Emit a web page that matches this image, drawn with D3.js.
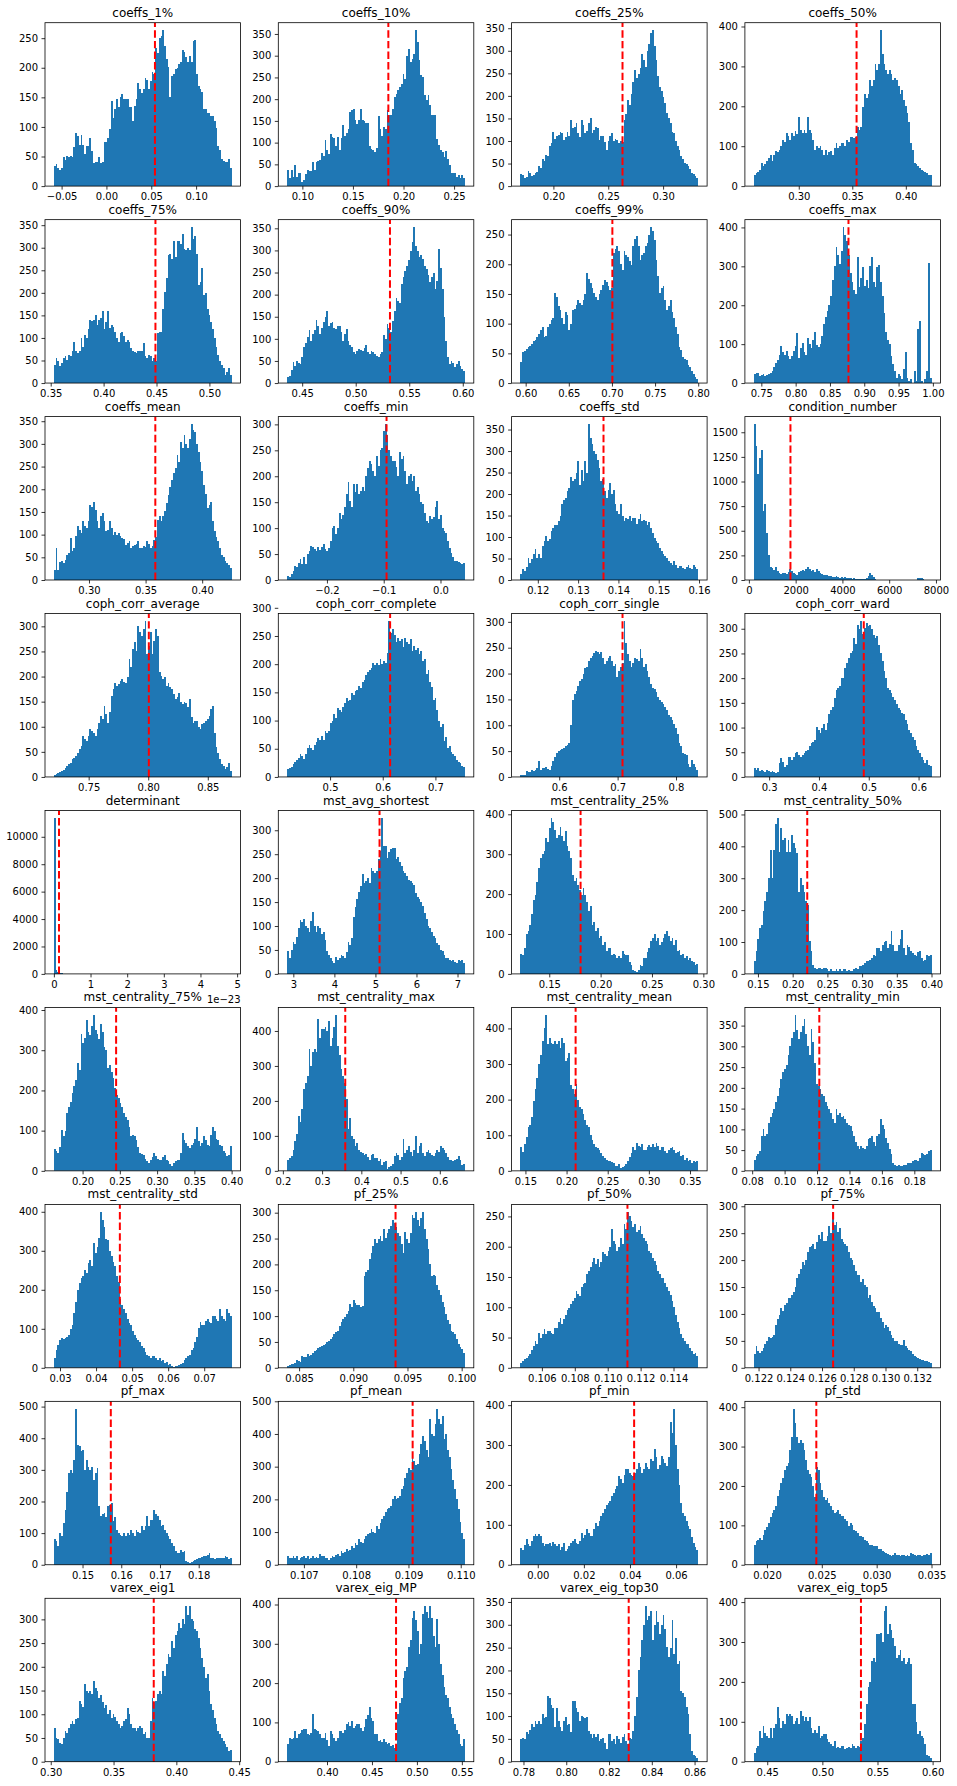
<!DOCTYPE html>
<html><head><meta charset="utf-8">
<script src="https://cdn.jsdelivr.net/npm/d3@7"></script>
<style>body{margin:0;background:#fff}svg{display:block}</style>
</head><body><svg id="chart" width="957" height="1786"></svg>
<script>
const titles = ["coeffs_1%","coeffs_10%","coeffs_25%","coeffs_50%","coeffs_75%","coeffs_90%","coeffs_99%","coeffs_max","coeffs_mean","coeffs_min","coeffs_std","condition_number","coph_corr_average","coph_corr_complete","coph_corr_single","coph_corr_ward","determinant","mst_avg_shortest","mst_centrality_25%","mst_centrality_50%","mst_centrality_75%","mst_centrality_max","mst_centrality_mean","mst_centrality_min","mst_centrality_std","pf_25%","pf_50%","pf_75%","pf_max","pf_mean","pf_min","pf_std","varex_eig1","varex_eig_MP","varex_eig_top30","varex_eig_top5"];
const binStart = [-0.0586,0.085,0.170,0.258,0.353,0.436,0.594,0.739,0.269,-0.270,0.1157,210,0.7208,0.4186,0.5337,0.2692,0,2.85,0.122,0.144,0.1615,0.211,0.144,0.081,0.0283,0.0839,0.1047,0.1217,0.1426,0.10668,-0.0075,0.0188,0.3025,0.3557,0.7786,0.4378];
const binEnd = [0.1396,0.2607,0.332,0.424,0.521,0.602,0.800,0.998,0.426,0.043,0.1598,7810,0.870,0.756,0.838,0.626,4.85,7.18,0.295,0.400,0.400,0.664,0.360,0.1906,0.0776,0.1003,0.1155,0.1329,0.1885,0.11008,0.0696,0.0350,0.444,0.5534,0.8617,0.599];
const redLines = [0.0541,0.185,0.263,0.354,0.449,0.532,0.7005,0.877,0.3586,-0.095,0.1363,1778,0.8005,0.614,0.7084,0.490,0.14,5.1,0.1805,0.221,0.245,0.359,0.211,0.1214,0.0466,0.0939,0.1112,0.1267,0.1573,0.10908,0.0418,0.0245,0.382,0.4768,0.8292,0.535];
const xTickLabels = [
 ["−0.05","0.00","0.05","0.10"],["0.10","0.15","0.20","0.25"],["0.20","0.25","0.30"],["0.30","0.35","0.40"],
 ["0.35","0.40","0.45","0.50"],["0.45","0.50","0.55","0.60"],["0.60","0.65","0.70","0.75","0.80"],["0.75","0.80","0.85","0.90","0.95","1.00"],
 ["0.30","0.35","0.40"],["−0.2","−0.1","0.0"],["0.12","0.13","0.14","0.15","0.16"],["0","2000","4000","6000","8000"],
 ["0.75","0.80","0.85"],["0.5","0.6","0.7"],["0.6","0.7","0.8"],["0.3","0.4","0.5","0.6"],
 ["0","1","2","3","4","5"],["3","4","5","6","7"],["0.15","0.20","0.25","0.30"],["0.15","0.20","0.25","0.30","0.35","0.40"],
 ["0.20","0.25","0.30","0.35","0.40"],["0.2","0.3","0.4","0.5","0.6"],["0.15","0.20","0.25","0.30","0.35"],["0.08","0.10","0.12","0.14","0.16","0.18"],
 ["0.03","0.04","0.05","0.06","0.07"],["0.085","0.090","0.095","0.100"],["0.106","0.108","0.110","0.112","0.114"],["0.122","0.124","0.126","0.128","0.130","0.132"],
 ["0.15","0.16","0.17","0.18"],["0.107","0.108","0.109","0.110"],["0.00","0.02","0.04","0.06"],["0.020","0.025","0.030","0.035"],
 ["0.30","0.35","0.40","0.45"],["0.40","0.45","0.50","0.55"],["0.78","0.80","0.82","0.84","0.86"],["0.45","0.50","0.55","0.60"]];
const xOffsetText = {16: "1e−23"};
const yTicks = [
 [0,50,100,150,200,250],[0,50,100,150,200,250,300,350],[0,50,100,150,200,250,300,350],[0,100,200,300,400],
 [0,50,100,150,200,250,300,350],[0,50,100,150,200,250,300,350],[0,50,100,150,200,250],[0,100,200,300,400],
 [0,50,100,150,200,250,300,350],[0,50,100,150,200,250,300],[0,50,100,150,200,250,300,350],[0,250,500,750,1000,1250,1500],
 [0,50,100,150,200,250,300],[0,50,100,150,200,250,300],[0,50,100,150,200,250,300],[0,50,100,150,200,250,300],
 [0,2000,4000,6000,8000,10000],[0,50,100,150,200,250,300],[0,100,200,300,400],[0,100,200,300,400,500],
 [0,100,200,300,400],[0,100,200,300,400],[0,100,200,300,400],[0,50,100,150,200,250,300,350],
 [0,100,200,300,400],[0,50,100,150,200,250,300],[0,50,100,150,200,250],[0,50,100,150,200,250,300],
 [0,100,200,300,400,500],[0,100,200,300,400,500],[0,100,200,300,400],[0,100,200,300,400],
 [0,50,100,150,200,250,300],[0,100,200,300,400],[0,50,100,150,200,250,300,350],[0,100,200,300,400]];

const coeffs_1 = [34,37,30,28,30,50,44,51,50,51,50,66,89,85,70,87,70,55,67,67,81,60,39,41,40,50,39,40,74,75,81,97,144,115,130,147,133,150,156,147,147,148,134,134,110,136,147,174,164,158,164,183,180,164,177,192,189,233,225,250,253,263,237,215,202,150,186,189,198,200,206,209,230,226,218,209,220,209,246,247,189,169,164,159,131,131,124,123,118,118,110,98,67,61,45,43,41,41,45,30];
const coeffs_10 = [37,19,37,21,48,21,29,31,9,14,28,37,35,35,55,38,56,58,60,75,70,107,83,73,119,113,111,93,113,84,111,141,115,122,132,170,174,177,151,142,151,177,153,150,146,146,92,86,83,79,87,162,132,115,135,132,174,164,164,177,206,211,220,229,234,258,247,300,316,285,292,303,358,331,289,255,251,209,199,209,186,163,164,164,109,94,83,79,67,81,63,48,31,31,29,21,25,18,25,18];
const coeffs_25 = [26,24,18,20,33,30,22,25,29,32,44,40,59,55,70,66,88,95,121,104,110,114,121,118,103,108,119,112,147,128,132,140,117,108,147,136,117,122,139,150,117,125,132,128,103,112,110,98,81,100,110,118,99,104,103,95,100,98,147,160,191,180,205,230,257,240,249,262,293,280,264,300,315,340,345,310,279,245,220,210,198,185,161,150,139,120,117,100,88,80,66,60,51,48,44,38,30,26,22,18];
const coeffs_50 = [27,33,35,41,58,50,55,62,70,79,62,79,87,85,91,100,116,110,133,126,116,133,126,137,130,174,141,133,141,133,174,141,133,116,91,100,95,100,91,79,91,79,85,87,79,95,108,95,100,108,108,100,116,110,124,124,120,124,149,140,149,199,232,220,232,266,250,266,307,290,307,390,330,307,290,282,290,282,266,270,266,250,232,240,216,200,183,160,108,90,58,55,50,45,41,38,35,33,29,27];
const coeffs_75 = [40,55,49,37,45,55,59,50,62,60,70,92,70,66,72,99,80,107,100,120,140,138,140,150,129,140,145,160,120,135,160,121,129,125,114,100,92,110,114,105,92,96,90,77,70,68,66,70,72,70,88,60,55,62,60,48,55,48,110,114,114,165,202,232,283,287,276,316,280,316,316,309,331,298,294,300,294,345,320,327,287,217,224,254,195,200,165,150,136,120,99,80,62,48,40,33,18,25,33,18];
const coeffs_90 = [13,17,30,47,39,51,45,43,60,81,90,104,119,96,110,119,142,130,111,125,138,150,164,130,135,138,125,123,128,130,115,96,110,123,96,85,81,70,66,72,77,75,73,80,85,70,66,73,70,66,62,58,66,70,108,100,134,125,115,140,164,193,185,182,223,240,254,265,278,299,320,352,310,299,284,290,280,265,257,245,229,240,250,212,230,303,260,212,150,96,60,43,51,45,36,42,51,38,32,28];
const coeffs_99 = [35,52,54,58,61,63,66,70,72,78,83,90,95,77,80,95,100,106,110,151,145,130,123,110,100,120,115,89,100,123,125,131,140,135,131,140,150,185,175,168,160,151,145,140,150,157,165,174,170,163,157,160,219,225,230,222,200,190,222,215,213,205,199,230,242,248,230,207,215,219,230,236,250,262,256,240,207,180,151,160,163,140,123,130,140,120,109,95,83,60,55,44,40,38,30,27,21,15,11,7];
const coeffs_max = [23,27,25,18,20,23,18,20,23,25,31,42,52,60,73,94,80,73,82,70,61,70,82,95,128,65,90,103,80,73,115,100,90,110,132,98,92,101,120,153,170,186,200,224,266,300,350,330,307,340,400,380,366,330,282,260,240,230,324,248,270,299,250,265,244,300,324,260,248,299,304,260,224,180,132,110,101,70,48,31,14,23,18,10,35,80,14,6,10,0,31,5,140,160,6,0,10,30,308,12];
const coeffs_mean = [23,71,21,40,42,38,45,56,60,93,64,70,96,118,110,104,129,120,115,130,166,160,173,155,130,115,140,147,130,107,110,129,115,100,105,100,104,98,93,90,78,82,85,71,75,78,80,85,70,71,74,72,85,80,71,75,89,95,133,140,129,140,151,170,188,205,220,235,246,275,260,304,290,319,300,290,310,343,330,326,300,282,260,240,209,190,158,165,173,130,107,95,85,70,56,50,42,38,34,27];
const coeffs_min = [8,6,12,17,27,25,32,40,30,45,30,50,55,66,63,60,56,63,58,63,69,60,56,62,75,100,105,88,100,130,117,125,140,165,188,152,140,185,170,185,166,172,180,172,200,215,230,223,210,200,239,220,250,255,288,300,280,250,240,230,230,217,200,246,233,240,210,185,200,204,191,200,172,180,166,150,146,130,114,110,124,118,121,140,152,117,125,101,95,90,75,62,53,45,37,36,34,32,30,33];
const coeffs_std = [13,25,21,30,52,40,48,60,71,52,60,52,80,90,102,91,95,114,120,129,129,137,150,176,185,191,207,215,240,230,236,250,277,221,256,230,277,250,362,330,316,300,292,280,261,230,235,207,191,210,226,199,210,176,160,153,176,150,137,145,141,150,137,145,145,130,141,153,137,140,137,129,135,122,110,98,91,85,75,68,60,55,52,44,40,36,44,35,29,33,33,28,25,30,36,29,25,36,30,25];
const condition_number = [1580,1360,1080,1240,1320,700,770,480,250,130,120,100,130,90,70,65,75,70,65,85,110,95,70,60,55,80,90,105,95,110,130,110,95,100,85,110,90,70,60,55,50,55,45,40,35,30,40,30,25,30,25,30,20,25,20,15,20,10,15,8,10,8,12,20,45,70,55,30,15,5,5,3,2,4,1,2,0,1,0,2,1,0,0,1,0,0,0,0,1,0,0,1,18,22,20,15,3,0,0,2];
const coph_corr_average = [3,5,8,10,11,14,18,22,25,28,35,38,42,48,55,61,81,75,71,82,95,91,88,81,95,108,121,115,141,125,108,130,161,175,188,181,185,191,195,190,188,200,235,220,255,268,250,301,288,280,295,310,245,260,288,245,270,295,280,210,201,195,200,181,188,180,175,165,155,160,168,150,145,150,148,140,155,120,108,111,111,100,95,105,108,111,115,121,135,141,88,60,48,35,25,21,15,20,28,11];
const coph_corr_complete = [14,15,18,23,26,30,33,41,38,32,40,51,57,52,48,57,62,69,66,72,66,81,78,81,95,100,112,105,122,118,115,124,131,140,135,137,149,145,152,155,162,158,168,172,180,186,190,193,202,198,202,199,210,200,205,202,220,276,255,263,251,240,247,242,245,230,247,239,235,245,223,232,226,229,218,223,205,210,183,190,168,160,137,140,118,100,88,94,63,70,51,55,44,40,38,30,26,24,20,17];
const coph_corr_single = [3,4,3,11,9,10,14,12,14,18,30,14,17,18,20,15,14,22,30,38,46,50,52,54,56,59,62,65,100,148,160,167,175,186,190,199,210,212,225,231,234,240,244,241,237,241,230,218,225,231,234,225,214,218,193,205,212,220,301,260,237,225,212,220,231,228,225,247,230,212,218,205,193,180,173,170,164,155,148,145,141,135,129,120,116,110,103,95,84,65,59,46,45,43,25,20,33,25,20,14];
const coph_corr_ward = [18,15,18,12,15,13,11,14,13,11,13,11,8,10,28,38,30,21,25,41,41,35,40,48,51,45,41,44,48,52,55,62,68,70,75,101,95,88,100,108,95,110,128,135,141,160,175,180,185,201,201,221,230,241,250,255,281,270,308,300,315,290,301,311,305,308,300,288,281,285,268,250,235,215,200,181,175,170,161,155,148,140,135,130,128,115,108,95,88,80,75,62,55,48,41,35,28,35,25,23];
const determinant = [11350,310,120,70,30,15,10,5,3,2,1,0,1,0,0,1,0,0,1,0,0,0,0,1,0,0,0,0,0,0,1,0,0,0,0,0,0,0,0,0,0,0,0,0,0,1,0,0,0,0,0,0,0,0,0,0,0,0,0,0,0,0,1,0,0,0,0,0,0,0,0,0,0,0,0,0,0,0,0,0,0,0,0,0,0,0,1,0,0,0,0,0,0,0,0,0,0,0,0,1];
const mst_avg_shortest = [47,33,50,67,62,77,95,112,108,115,101,95,88,110,130,100,88,101,95,84,88,70,47,40,33,26,22,36,30,33,40,38,33,45,67,60,75,118,140,156,170,184,208,190,194,201,190,222,215,210,215,240,256,325,268,267,243,255,260,263,263,239,245,233,225,215,211,205,197,195,190,185,169,160,156,150,142,128,115,101,95,88,80,74,65,60,50,47,40,33,33,28,26,29,25,23,28,26,30,23];
const mst_centrality_25 = [50,48,65,100,107,123,150,186,198,230,265,290,300,307,340,330,365,390,380,361,340,348,369,345,332,357,320,307,290,248,232,240,223,210,198,215,198,180,157,170,123,130,107,115,90,95,73,80,57,65,65,48,50,48,40,45,40,57,50,48,48,30,23,11,7,5,11,23,20,40,40,55,65,82,90,100,82,90,73,80,90,100,107,95,82,90,73,85,57,60,48,50,40,45,36,40,32,30,23,25];
const mst_centrality_50 = [40,71,110,144,154,196,230,258,300,389,300,389,470,488,383,458,420,425,383,420,383,435,410,394,380,258,300,280,258,230,217,102,71,29,19,14,19,20,14,19,19,14,8,14,10,8,14,8,14,10,14,14,8,12,8,8,14,19,15,24,24,29,35,40,40,45,50,60,55,81,81,71,92,100,102,81,95,133,90,71,71,92,110,138,80,60,92,85,71,65,60,55,70,71,50,40,45,60,55,60];
const mst_centrality_75 = [55,49,44,60,102,86,100,143,160,172,193,210,226,267,250,341,317,330,374,345,337,360,387,350,340,329,366,345,309,300,255,262,247,230,206,189,180,169,160,143,135,127,110,86,90,86,77,60,44,42,40,30,24,20,28,35,44,36,30,28,28,35,40,28,24,16,12,20,24,28,28,45,94,77,70,61,57,65,69,80,110,75,61,70,86,77,65,61,90,110,98,80,77,65,61,50,44,36,40,61];
const mst_centrality_max = [32,38,42,61,85,104,157,140,176,234,250,272,348,300,339,348,340,434,380,405,405,410,400,429,358,380,410,445,358,330,291,272,250,205,119,150,100,90,71,80,61,55,52,45,47,40,32,45,47,37,37,28,35,18,25,28,4,10,13,20,42,52,45,32,40,90,52,60,71,55,42,60,100,52,70,81,50,42,55,61,52,45,42,50,61,55,71,66,60,52,40,32,30,28,32,35,42,30,18,20];
const mst_centrality_mean = [68,54,75,96,124,130,151,197,230,262,300,326,364,400,437,355,373,360,355,364,355,364,346,373,360,308,318,330,240,230,216,244,200,179,175,160,142,130,124,100,87,75,68,65,59,50,41,35,31,27,27,24,22,15,13,18,8,10,13,20,27,40,50,68,59,77,70,68,75,59,59,66,72,68,75,68,77,70,59,68,68,55,50,59,65,68,59,50,54,55,41,45,31,35,27,30,22,27,25,27];
const mst_centrality_min = [27,35,40,48,84,100,84,90,116,130,140,148,165,180,200,221,237,245,254,280,302,320,335,375,340,318,335,350,367,330,302,280,343,310,261,210,205,197,185,180,165,156,150,140,125,116,148,135,140,130,132,125,116,110,108,95,84,70,60,52,60,55,52,60,76,80,84,70,60,84,90,124,110,100,80,68,52,40,19,15,11,15,12,11,13,15,18,19,20,23,27,25,23,30,44,40,38,40,48,50];
const mst_centrality_std = [25,45,59,70,76,74,76,80,84,100,109,140,168,200,218,230,235,252,244,269,277,260,319,294,310,332,399,380,361,330,328,300,286,270,260,235,220,176,160,151,140,126,115,109,95,84,76,70,67,55,50,40,34,30,25,29,30,25,21,25,17,20,13,15,8,10,4,2,5,4,8,10,13,20,25,30,34,45,50,67,80,101,118,110,109,120,126,118,115,134,134,126,120,151,134,126,120,151,140,134];
const pf_25 = [3,5,7,8,10,16,13,12,23,20,20,26,23,25,29,33,35,39,40,43,45,46,50,52,56,60,65,70,72,80,88,95,98,105,110,124,118,131,125,121,121,118,120,177,185,190,210,223,235,249,242,250,255,245,268,252,260,268,275,285,280,272,260,255,240,223,262,250,242,260,295,290,301,285,275,290,301,268,250,229,200,177,180,177,160,151,140,128,118,105,92,85,72,70,65,55,46,40,36,28];
const pf_50 = [8,12,14,17,20,22,30,36,44,40,58,50,55,64,55,60,61,58,55,66,66,75,83,72,80,88,95,99,105,110,115,127,122,118,133,138,140,155,160,166,175,182,171,180,166,175,191,188,185,193,200,229,210,205,193,200,215,205,238,230,257,250,243,232,238,225,227,235,221,215,210,205,193,190,182,177,170,160,155,149,149,140,133,127,120,110,100,88,75,66,55,50,44,40,39,33,28,22,25,20];
const pf_75 = [25,40,31,28,31,37,45,49,58,55,58,60,80,90,98,111,105,117,120,129,129,135,141,150,166,175,184,197,190,200,215,225,227,230,220,233,246,240,252,236,236,245,264,250,289,265,270,252,260,240,233,230,227,215,203,200,190,180,172,172,160,165,154,150,129,135,123,115,111,104,104,92,85,74,80,75,68,61,55,49,49,45,43,43,52,40,37,33,31,25,21,20,18,16,15,14,12,12,10,9];
const pf_max = [80,75,60,101,90,132,174,230,290,300,290,330,492,380,374,360,363,300,332,310,300,310,269,290,305,185,153,160,164,150,185,190,195,138,150,111,101,95,90,101,90,101,95,111,101,90,111,105,101,122,111,122,153,122,140,143,174,160,153,140,122,125,111,100,90,80,70,59,45,38,38,48,40,43,12,8,6,10,12,15,17,20,22,25,27,27,30,38,22,20,17,20,22,22,20,22,27,25,17,22];
const pf_mean = [27,21,22,27,21,27,16,21,25,27,21,27,18,22,27,21,25,21,32,28,27,21,22,16,20,27,25,30,32,28,42,37,40,47,42,45,57,50,68,60,78,70,68,80,88,95,98,108,100,98,119,110,129,140,149,160,170,175,180,200,211,201,205,211,231,240,266,280,297,290,328,317,305,307,340,368,395,380,350,330,445,400,395,430,476,445,430,455,384,400,350,330,292,260,231,200,170,130,98,78];
const pf_min = [43,38,50,64,51,47,60,72,76,72,76,72,55,47,52,51,55,47,58,51,47,51,38,45,55,34,40,47,55,60,64,55,51,60,80,68,75,89,80,72,72,90,105,97,110,122,130,139,150,156,160,172,180,189,197,223,215,206,225,239,239,231,225,223,230,239,256,245,231,240,256,245,239,264,260,290,270,239,250,273,264,255,248,270,357,330,390,300,239,200,156,130,122,110,97,89,70,55,45,38];
const pf_std = [51,60,64,68,64,75,89,95,106,120,132,140,148,175,190,207,220,241,250,258,290,325,395,359,325,310,316,308,290,266,241,230,224,200,173,249,240,207,190,173,165,170,157,150,140,132,135,140,130,123,123,115,110,98,106,100,89,85,81,73,73,70,64,60,56,51,50,47,48,47,39,40,35,33,30,28,26,22,25,30,26,24,22,25,26,22,24,22,30,27,26,22,25,26,22,24,26,28,26,30];
const varex_eig1 = [72,51,47,40,37,51,65,60,72,80,86,79,90,93,128,121,115,163,150,145,149,142,170,155,149,135,140,125,114,120,100,110,93,100,95,86,80,72,75,86,90,114,100,79,72,70,65,72,75,72,58,62,51,50,86,135,125,128,142,150,142,191,180,205,226,220,254,240,268,275,293,282,300,290,328,310,328,300,296,280,275,260,240,219,200,177,184,150,121,110,93,80,65,58,50,44,38,30,22,25];
const varex_eig_MP = [44,61,57,60,78,61,70,74,80,83,83,70,68,74,121,83,80,78,70,61,61,74,55,40,78,70,61,53,60,78,78,74,80,95,100,92,104,87,90,95,95,85,78,88,108,120,138,110,104,70,70,53,55,49,57,50,44,48,40,42,36,40,121,150,163,214,230,240,291,310,366,383,360,332,274,300,375,396,380,366,396,366,320,291,362,300,249,220,189,170,163,140,121,110,95,80,70,45,40,57];
const varex_eig_top30 = [49,53,50,64,60,70,82,75,90,82,90,82,104,95,97,145,139,125,117,75,117,90,75,68,90,97,80,82,65,134,134,117,110,90,100,97,95,97,68,60,53,60,55,60,45,50,53,40,27,60,60,45,50,38,57,50,42,55,60,45,38,53,50,68,100,141,200,230,266,300,341,311,320,330,266,300,330,306,280,300,322,290,251,229,250,311,236,270,214,220,156,150,141,120,104,60,23,15,12,9];
const varex_eig_top5 = [23,35,40,77,60,90,73,65,60,85,60,85,94,136,110,85,101,95,119,115,119,115,94,101,110,94,127,115,101,111,101,111,85,73,80,73,90,60,65,69,69,56,50,44,40,52,35,38,35,39,39,31,35,38,35,44,40,35,39,37,52,60,94,144,186,200,253,260,250,319,319,323,300,378,390,319,344,330,311,290,260,268,280,253,260,245,250,260,245,144,144,100,69,77,65,60,45,18,14,10];

const counts = [coeffs_1,coeffs_10,coeffs_25,coeffs_50,coeffs_75,coeffs_90,coeffs_99,coeffs_max,coeffs_mean,coeffs_min,coeffs_std,condition_number,coph_corr_average,coph_corr_complete,coph_corr_single,coph_corr_ward,determinant,mst_avg_shortest,mst_centrality_25,mst_centrality_50,mst_centrality_75,mst_centrality_max,mst_centrality_mean,mst_centrality_min,mst_centrality_std,pf_25,pf_50,pf_75,pf_max,pf_mean,pf_min,pf_std,varex_eig1,varex_eig_MP,varex_eig_top30,varex_eig_top5];

const svg = d3.select('#chart');
const AX_W = 195.5, AX_H = 163.4;
const BAR = '#1f77b4';
const FONT = '"DejaVu Sans", "Liberation Sans", sans-serif';
const colX = c => 45 + c * 233.3;
const rowY = r => 22.7 + r * 196.95;
const parseLabel = s => parseFloat(s.replace('−', '-'));

titles.forEach((title, i) => {
  const data = counts[i];
  const n = data.length;
  const lo = binStart[i], hi = binEnd[i], span = hi - lo;
  const edges = d3.range(n + 1).map(k => lo + span * k / n);
  const bins = data.map((v, k) => ({x0: edges[k], x1: edges[k + 1], v}));
  const x = d3.scaleLinear().domain([lo - span * 0.05, hi + span * 0.05]).range([0, AX_W]);
  const y = d3.scaleLinear().domain([0, d3.max(data) * 1.05]).range([AX_H, 0]);
  const g = svg.append('g').attr('transform', `translate(${colX(i % 4)},${rowY(Math.floor(i / 4))})`);
  const clipId = 'clip' + i;
  g.append('clipPath').attr('id', clipId).append('rect').attr('width', AX_W).attr('height', AX_H);
  const plot = g.append('g').attr('clip-path', `url(#${clipId})`);
  plot.append('g').attr('shape-rendering', 'crispEdges')
    .selectAll('rect.bar').data(bins.filter(b => b.v > 0)).join('rect')
    .attr('class', 'bar')
    .attr('x', b => x(b.x0))
    .attr('width', b => x(b.x1) - x(b.x0))
    .attr('y', b => y(b.v))
    .attr('height', b => AX_H - y(b.v))
    .attr('fill', BAR);
  plot.append('line')
    .attr('x1', x(redLines[i])).attr('x2', x(redLines[i]))
    .attr('y1', AX_H).attr('y2', 0)
    .attr('stroke', '#ff0000').attr('stroke-width', 2)
    .attr('stroke-dasharray', '7.4,3.2');

  const xv = xTickLabels[i].map(parseLabel);
  const gx = g.append('g').attr('transform', `translate(0,${AX_H})`)
    .call(d3.axisBottom(x).tickValues(xv).tickFormat((d, k) => xTickLabels[i][k]).tickSize(3.5).tickPadding(3.5));
  const gy = g.append('g')
    .call(d3.axisLeft(y).tickValues(yTicks[i]).tickFormat(d3.format('d')).tickSize(3.5).tickPadding(3.5));
  [gx, gy].forEach(a => {
    a.select('.domain').remove();
    a.attr('font-family', FONT).attr('font-size', 10);
    a.selectAll('.tick line').attr('stroke', '#000').attr('stroke-width', 0.8);
    a.selectAll('.tick text').attr('fill', '#000');
  });
  g.append('rect').attr('width', AX_W).attr('height', AX_H)
    .attr('fill', 'none').attr('stroke', '#000').attr('stroke-width', 0.8);
  g.append('text').attr('x', AX_W / 2).attr('y', -6)
    .attr('text-anchor', 'middle').attr('font-family', FONT).attr('font-size', 12)
    .attr('fill', '#000').text(title);
  if (xOffsetText[i]) {
    g.append('text').attr('x', AX_W).attr('y', AX_H + 29)
      .attr('text-anchor', 'end').attr('font-family', FONT).attr('font-size', 10)
      .attr('fill', '#000').text(xOffsetText[i]);
  }
});
</script></body></html>
